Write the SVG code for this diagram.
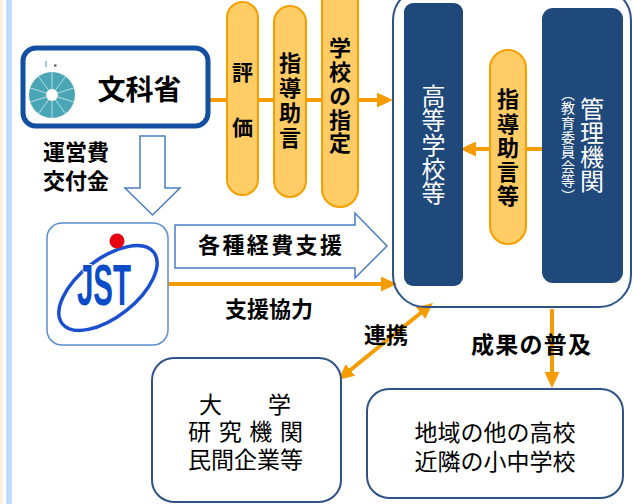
<svg xmlns="http://www.w3.org/2000/svg" width="634" height="504" viewBox="0 0 634 504">
<defs>
<style>
.t{font-family:"Noto Sans CJK JP","Noto Sans",sans-serif;fill:#000}
.b{font-weight:bold}
.w{fill:#fff}
.v{writing-mode:vertical-rl}
.pill{fill:#ffcc66;stroke:#f5a000;stroke-width:2}
.navy{fill:#1f487b}
.ol{fill:#fff;stroke:#2f5289;stroke-width:2}
.hollow{fill:#fff;stroke:#4a7ec0;stroke-width:1.5}
.or{fill:none;stroke:#f59d00;stroke-width:4}
</style>
<marker id="ah" markerUnits="userSpaceOnUse" markerWidth="16" markerHeight="15" refX="8" refY="7.5" orient="auto-start-reverse">
<path d="M0,0 L16,7.5 L0,15 z" fill="#f59d00"/>
</marker>
</defs>
<rect width="634" height="504" fill="#fff"/>
<rect x="0" y="0" width="3" height="504" fill="#ffefdc"/>
<rect x="6" y="0" width="6" height="504" fill="#bfdcff"/>

<g id="connectors">
<path class="or" d="M210,100 H385" marker-end="url(#ah)"/>
<path class="or" d="M542,149 H468" marker-end="url(#ah)"/>
<path class="or" d="M168,284 H389" marker-end="url(#ah)"/>
<path class="or" d="M552,309 V380" marker-end="url(#ah)"/>
<path class="or" d="M344.2,375 L426.8,308" marker-start="url(#ah)" marker-end="url(#ah)"/>
<polygon class="hollow" points="140,136 165,136 165,188 180,188 152.5,215 125,188 140,188"/>
<polygon class="hollow" points="175,225 355,225 355,213 387,246 355,278 355,268 175,268"/>
</g>

<g id="labels">
<text class="t b" font-size="22" x="76" y="160" text-anchor="middle">運営費</text>
<text class="t b" font-size="22" x="76" y="189" text-anchor="middle">交付金</text>
<text class="t b" font-size="22" x="270" y="253" text-anchor="middle" textLength="144" lengthAdjust="spacing">各種経費支援</text>
<text class="t b" font-size="22" x="269" y="317" text-anchor="middle">支援協力</text>
<text class="t b" font-size="22" x="386" y="343" text-anchor="middle">連携</text>
<text class="t b" font-size="23" x="531" y="353" text-anchor="middle" textLength="120" lengthAdjust="spacing">成果の普及</text>
</g>

<g id="monbu">
<rect x="23" y="48" width="185" height="78" rx="13" fill="#fff" stroke="#1450a0" stroke-width="5"/>
<circle cx="52" cy="95" r="23" fill="#4aa6b5"/>
<g stroke="#b5e0e6" stroke-width="1">
<line x1="52" y1="89" x2="52" y2="72"/>
<line x1="55.5" y1="90.1" x2="65.5" y2="76.4"/>
<line x1="57.7" y1="93.1" x2="73.9" y2="87.9"/>
<line x1="57.7" y1="96.9" x2="73.9" y2="102.1"/>
<line x1="55.5" y1="99.9" x2="65.5" y2="113.6"/>
<line x1="52" y1="101" x2="52" y2="118"/>
<line x1="48.5" y1="99.9" x2="38.5" y2="113.6"/>
<line x1="46.3" y1="96.9" x2="30.1" y2="102.1"/>
<line x1="46.3" y1="93.1" x2="30.1" y2="87.9"/>
<line x1="48.5" y1="90.1" x2="38.5" y2="76.4"/>
</g>
<circle cx="52" cy="95" r="6" fill="#fff"/>
<line x1="46" y1="61" x2="46" y2="67" stroke="#4a8fb0" stroke-width="1"/>
<rect x="54" y="64.5" width="2.5" height="2" fill="#2a5a80"/>
<text class="t b" font-size="28" x="139.5" y="99.5" text-anchor="middle">文科省</text>
</g>

<g id="hyouka">
<rect class="pill" x="227" y="2" width="31" height="193" rx="15.5"/>
<text class="t b" font-size="21" x="242.5" y="79.5" text-anchor="middle">評</text>
<text class="t b" font-size="21" x="242.5" y="134.5" text-anchor="middle">価</text>
</g>

<g id="shidou">
<rect class="pill" x="274" y="6" width="32" height="191" rx="16"/>
<text class="t b v" font-size="22" x="290" y="52" letter-spacing="3">指導助言</text>
</g>

<g id="shitei">
<rect class="pill" x="322" y="-20" width="36" height="227" rx="18"/>
<text class="t b v" font-size="22" x="340" y="37" letter-spacing="1.75">学校の指定</text>
</g>

<g id="container">
<rect x="393" y="-12" width="238" height="319" rx="32" fill="none" stroke="#2f5289" stroke-width="2"/>
</g>

<g id="koukou">
<rect class="navy" x="404" y="3" width="59" height="283" rx="9"/>
<text class="t w v" font-size="24" x="433.5" y="84" letter-spacing="0.25">高等学校等</text>
</g>

<g id="kanri">
<rect class="navy" x="542" y="8" width="81" height="275" rx="11"/>
<text class="t w v" font-size="24" x="592" y="97">管理機関</text>
<text class="t w v" font-size="14" x="568" y="86.4" letter-spacing="0.6">（教育委員会等）</text>
</g>

<g id="shidou2">
<rect class="pill" x="490" y="50" width="36" height="194" rx="18"/>
<text class="t b v" font-size="22" x="508" y="88" letter-spacing="2.25">指導助言等</text>
</g>

<g id="jst">
<rect x="47" y="223" width="121" height="122" rx="15" fill="#fff" stroke="#5b8fd0" stroke-width="1.5"/>
<ellipse cx="108" cy="288" rx="58" ry="29" transform="rotate(-38 108 288)" fill="none" stroke="#1a50d0" stroke-width="3.5"/>
<text font-family="Liberation Sans, Arial, sans-serif" font-weight="bold" font-size="58" x="77" y="305" textLength="54" lengthAdjust="spacingAndGlyphs" fill="#0a4cc8" stroke="#fff" stroke-width="2" paint-order="stroke">JST</text>
<circle cx="117" cy="241" r="7.5" fill="#e60012"/>
</g>

<g id="daigaku">
<rect class="ol" x="152" y="358" width="189" height="144" rx="22"/>
<text class="t" font-size="23" x="245" y="413" text-anchor="middle">大　　学</text>
<text class="t" font-size="23" x="245.5" y="440" text-anchor="middle" textLength="115" lengthAdjust="spacing">研 究 機 関</text>
<text class="t" font-size="23" x="245.5" y="468" text-anchor="middle">民間企業等</text>
</g>

<g id="chiiki">
<rect class="ol" x="367" y="389" width="256" height="109" rx="22"/>
<text class="t" font-size="23" x="495" y="441" text-anchor="middle">地域の他の高校</text>
<text class="t" font-size="23" x="495" y="470" text-anchor="middle">近隣の小中学校</text>
</g>
</svg>
